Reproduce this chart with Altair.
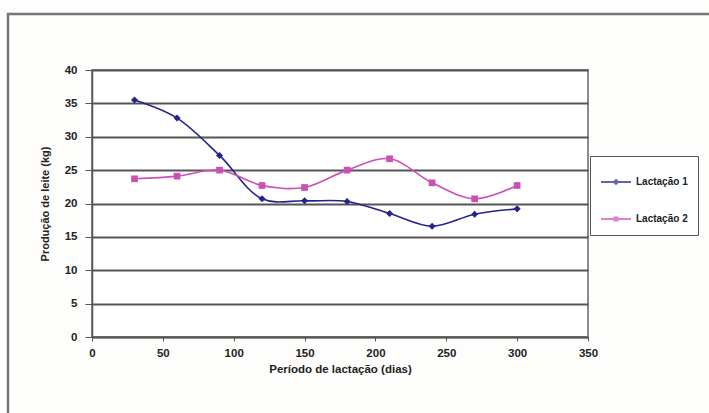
import altair as alt
import pandas as pd

dias = [30, 60, 90, 120, 150, 180, 210, 240, 270, 300]
lact1 = [35.5, 32.8, 27.2, 20.7, 20.4, 20.3, 18.5, 16.6, 18.4, 19.2]
lact2 = [23.7, 24.1, 25.0, 22.7, 22.4, 25.0, 26.7, 23.1, 20.7, 22.7]
series = ["Lactação 1", "Lactação 2"]
colors = ["#24248a", "#cc4fb4"]
shapes = ["diamond", "square"]
legend_paths = [
    "M-1,0L1,0M0,-0.13L0.13,0L0,0.13L-0.13,0ZM0,-0.06L0.06,0L0,0.06L-0.06,0Z",
    "M-1,0L1,0M-0.1,-0.1L0.1,-0.1L0.1,0.1L-0.1,0.1ZM-0.05,-0.05L0.05,-0.05L0.05,0.05L-0.05,0.05Z",
]

df = pd.DataFrame({
    "dias": dias * 2,
    "leite": lact1 + lact2,
    "serie": [series[0]] * len(dias) + [series[1]] * len(dias),
})

FONT = "Liberation Sans"

x = alt.X("dias:Q", scale=alt.Scale(domain=[0, 350], nice=False),
          axis=alt.Axis(values=list(range(0, 351, 50)), title="Período de lactação (dias)",
                        grid=False, labelFont=FONT, labelFontWeight="bold", labelFontSize=11.5,
                        labelColor="#222", titleFont=FONT, titleFontWeight="bold",
                        titleFontSize=11.5, titleColor="#222", tickSize=4, tickColor="#555",
                        domainColor="#555", domainWidth=1.5, labelPadding=6, titlePadding=5,
                        labelFlush=False))
y = alt.Y("leite:Q", scale=alt.Scale(domain=[0, 40], nice=False),
          axis=alt.Axis(values=list(range(0, 41, 5)), title="Produção de leite (kg)",
                        grid=True, gridColor="#555", gridWidth=1.8, labelFont=FONT,
                        labelFontWeight="bold", labelFontSize=11.5, labelColor="#222",
                        titleFont=FONT, titleFontWeight="bold", titleFontSize=11,
                        titleColor="#222", tickSize=7, tickColor="#555", domainColor="#555",
                        domainWidth=1.5, labelPadding=8, titlePadding=14, labelFlush=False))

base = alt.Chart(df)
layers = []
frame = alt.Chart(pd.DataFrame({"a": [0]})).mark_rect(
    fillOpacity=0, stroke="#777", strokeWidth=2.5, clip=False
).encode(x=alt.value(-84), x2=alt.value(700), y=alt.value(-56), y2=alt.value(400))
layers.append(frame)

for s, c, sh in zip(series, colors, shapes):
    sub = base.transform_filter(alt.datum.serie == s)
    layers.append(sub.mark_line(interpolate="catmull-rom", strokeWidth=1.6).encode(
        x=x, y=y, color=alt.value(c)))
    layers.append(sub.mark_point(filled=True, opacity=1, size=45 if sh == "square" else 50).encode(
        x=x, y=y, color=alt.value(c), shape=alt.value(sh)))

legend = alt.Legend(title=None, orient="none", legendX=498, legendY=86,
                    strokeColor="#555", fillColor="white", padding=10,
                    labelFont=FONT, labelFontWeight="bold", labelFontSize=10,
                    labelColor="#222", symbolSize=900, symbolStrokeWidth=2,
                    rowPadding=15, labelOffset=4)
leg = base.transform_filter("false").mark_point(filled=False, strokeWidth=2).encode(
    x=x, y=y,
    color=alt.Color("serie:N", scale=alt.Scale(domain=series, range=colors), legend=legend),
    shape=alt.Shape("serie:N", scale=alt.Scale(domain=series, range=legend_paths), legend=legend),
)
layers.append(leg)

chart = alt.layer(*layers).properties(
    width=496, height=267,
    autosize=alt.AutoSizeParams(type="none"),
    padding={"left": 92, "top": 70, "right": 121, "bottom": 76},
    background="#fdfdfb",
).configure_view(stroke="#666", strokeWidth=1.5, fill="white")

chart.save("out.html", embed_options={"renderer": "svg", "actions": False})
